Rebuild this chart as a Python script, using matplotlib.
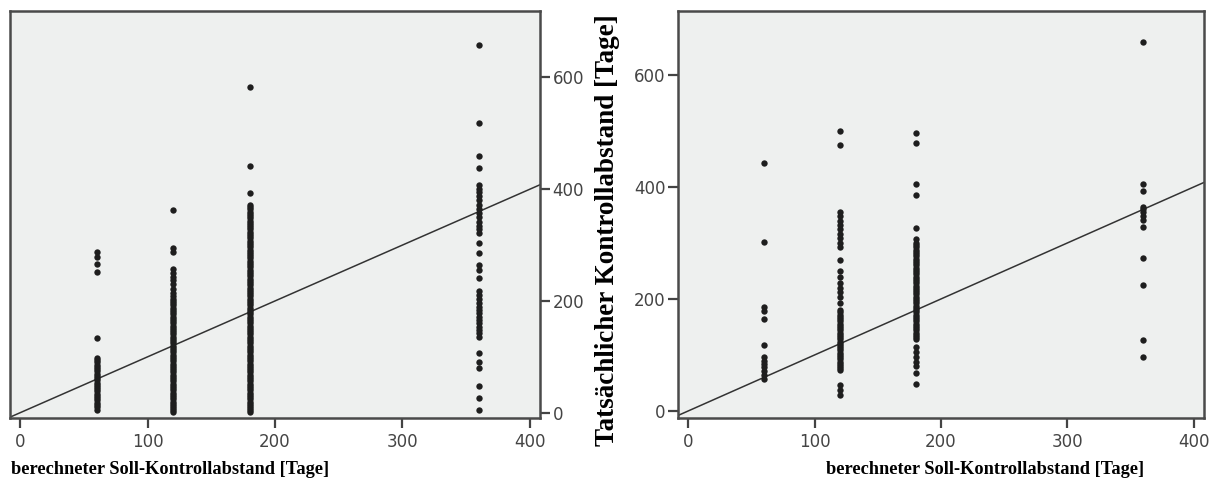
import matplotlib
matplotlib.use("Agg")
import matplotlib.pyplot as plt

# ---------------- data ----------------
soll_values = [60, 120, 180, 360]

left_60 = [288, 278, 266, 252, 133, 98, 94, 90, 86, 82, 78, 74, 70, 66, 62, 58, 54, 50,
           46, 42, 38, 34, 30, 26, 22, 18, 14, 10, 5]
left_120 = [362, 295, 288, 258, 250, 243, 237, 230, 222, 215, 208, 204, 200, 196, 192, 188,
            184, 180, 176, 172, 168, 164, 160, 156, 152, 148, 144, 140, 136, 132, 128, 124,
            120, 116, 112, 108, 104, 100, 96, 92, 88, 84, 80, 76, 72, 68, 64, 60, 56, 52, 48,
            44, 40, 36, 32, 28, 24, 20, 16, 12, 8, 4, 2]
left_180 = [583, 442, 393, 372, 368, 364, 360, 356, 352, 348, 344, 340, 336, 332, 328, 324,
            320, 316, 312, 308, 304, 300, 296, 292, 288, 284, 280, 276, 272, 268, 264, 260,
            256, 252, 248, 244, 240, 236, 232, 228, 224, 220, 216, 212, 208, 204, 200, 196,
            192, 188, 184, 180, 176, 172, 168, 164, 160, 156, 152, 148, 144, 140, 136, 132,
            128, 124, 120, 116, 112, 108, 104, 100, 96, 92, 88, 84, 80, 76, 72, 68, 64, 60,
            56, 52, 48, 44, 40, 36, 32, 28, 24, 20, 16, 12, 8, 4, 1]
left_360 = [658, 519, 460, 438, 408, 400, 395, 388, 380, 372, 365, 358, 350, 342, 335, 328,
            321, 304, 286, 264, 255, 241, 217, 210, 203, 196, 190, 184, 178, 172, 166, 160,
            154, 148, 142, 136, 107, 91, 80, 47, 26, 5]

right_60 = [443, 301, 186, 178, 165, 118, 97, 90, 84, 78, 72, 65, 58]
right_120 = [499, 475, 356, 348, 340, 332, 324, 316, 308, 300, 293, 270, 250, 240, 228, 220,
             212, 204, 193, 180, 176, 172, 168, 164, 160, 156, 152, 148, 144, 140, 136, 132,
             128, 124, 120, 116, 112, 108, 104, 100, 96, 92, 88, 84, 80, 76, 73, 46, 38, 29]
right_180 = [497, 479, 405, 386, 326, 307, 300, 296, 292, 288, 284, 280, 276, 272, 268, 264,
             260, 256, 252, 248, 244, 240, 236, 232, 228, 224, 220, 216, 212, 208, 204, 200,
             196, 192, 188, 184, 180, 176, 172, 168, 164, 160, 156, 152, 148, 144, 140, 136,
             132, 128, 115, 105, 96, 88, 80, 67, 49]
right_360 = [658, 405, 393, 365, 360, 355, 348, 341, 329, 273, 225, 126, 97]

x_ticks = [0, 100, 200, 300, 400]
y_ticks = [0, 200, 400, 600]
x_label = "berechneter Soll-Kontrollabstand [Tage]"
y_label = "Tatsächlicher Kontrollabstand [Tage]"

left_groups = [left_60, left_120, left_180, left_360]
right_groups = [right_60, right_120, right_180, right_360]

# ---------------- style ----------------
BG = "#eef0ef"
FRAME = "#4a4a4a"
DOT = "#1e1e1e"
TICKC = "#444444"

fig = plt.figure(figsize=(12.19, 4.95), dpi=100)
ax_l = fig.add_axes([10 / 1219, 77 / 495, 530 / 1219, 407 / 495])
ax_r = fig.add_axes([678 / 1219, 77 / 495, 526 / 1219, 407 / 495])


def style(ax, ylim, yside):
    ax.set_facecolor(BG)
    for s in ax.spines.values():
        s.set_color(FRAME)
        s.set_linewidth(1.8)
    ax.set_xlim(-8, 408)
    ax.set_ylim(*ylim)
    ax.set_xticks(x_ticks)
    ax.set_yticks(y_ticks)
    ax.tick_params(direction="out", length=7, width=1.6, color=TICKC,
                   labelsize=12, labelcolor="#444444", pad=2)
    ax.tick_params(axis="x", pad=4)
    if yside == "right":
        ax.yaxis.tick_right()
    else:
        ax.yaxis.tick_left()


def draw(ax, groups):
    for xv, ys in zip(soll_values, groups):
        ax.scatter([xv] * len(ys), ys, s=21, color=DOT, linewidths=0, zorder=3)
    ax.axline((0, 0), slope=1, color="#333333", lw=1.1, zorder=2)


style(ax_l, (-9.5, 719), "right")
style(ax_r, (-12.5, 714), "left")
draw(ax_l, left_groups)
draw(ax_r, right_groups)

serif = ["Liberation Serif", "DejaVu Serif"]
fig.text(170 / 1219, 1 - 470 / 495, x_label, ha="center", va="center",
         fontsize=13.2, fontweight="bold", family=serif)
fig.text(985 / 1219, 1 - 470 / 495, x_label, ha="center", va="center",
         fontsize=13.2, fontweight="bold", family=serif)
fig.text(608 / 1219, 1 - 230 / 495, y_label, ha="center", va="center", rotation=90,
         fontsize=19.5, fontweight="bold", family=serif)

fig.savefig("out.png", dpi=100)
